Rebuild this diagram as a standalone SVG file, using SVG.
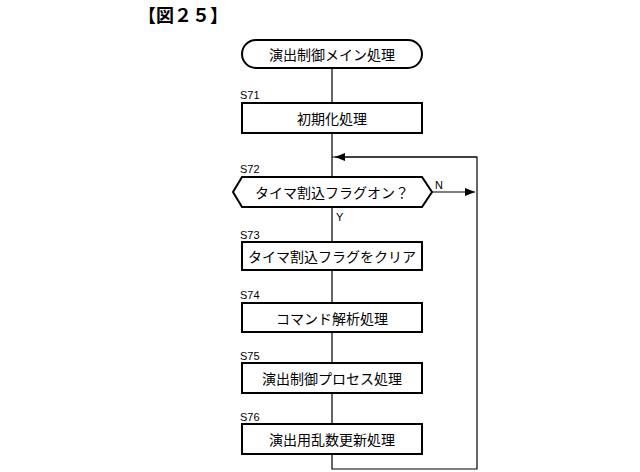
<svg xmlns="http://www.w3.org/2000/svg" width="640" height="472" viewBox="0 0 640 472">
<style>
.b{fill:#fff;stroke:#000;stroke-width:2}
.t{font-family:"Noto Sans CJK JP",sans-serif;font-size:14px;text-anchor:middle;dominant-baseline:central}
.l{font-family:"Liberation Sans",sans-serif;font-size:11px}
.c{fill:none;stroke:#000;stroke-width:1.2}
</style>
<defs><marker id="a" markerWidth="10" markerHeight="8" refX="10" refY="4" orient="auto" markerUnits="userSpaceOnUse"><path d="M0,0L10,4L0,8z"/></marker></defs>
<rect width="640" height="472" fill="#fff"/>
<text x="138" y="22" font-family="Noto Sans CJK JP,sans-serif" font-size="18" font-weight="bold">【図２５】</text>
<g id="connectors">
<path class="c" d="M332,68V103M332,133V242M332,269V303M332,332V363M332,393V424M332,454V469H477V157H332" />
<path class="c" d="M477,157H335" marker-end="url(#a)"/>
<path class="c" d="M432,192H475" marker-end="url(#a)"/>
<text class="l" x="435" y="189">N</text>
<text class="l" x="336" y="221">Y</text>
</g>
<g id="start"><rect class="b" x="242" y="40" width="180" height="28" rx="14"/><text class="t" x="332" y="54">演出制御メイン処理</text></g>
<g id="s71"><text class="l" x="240" y="99">S71</text><rect class="b" x="242" y="103" width="180" height="30"/><text class="t" x="332" y="118">初期化処理</text></g>
<g id="s72"><text class="l" x="240" y="173">S72</text><polygon class="b" points="242,177 422,177 432,192 422,207 242,207 233,192"/><text class="t" x="332" y="192">タイマ割込フラグオン？</text></g>
<g id="s73"><text class="l" x="240" y="239">S73</text><rect class="b" x="242" y="242" width="180" height="28"/><text class="t" x="332" y="256">タイマ割込フラグをクリア</text></g>
<g id="s74"><text class="l" x="240" y="299">S74</text><rect class="b" x="242" y="303" width="180" height="29"/><text class="t" x="332" y="318">コマンド解析処理</text></g>
<g id="s75"><text class="l" x="240" y="360">S75</text><rect class="b" x="242" y="363" width="180" height="30"/><text class="t" x="332" y="378">演出制御プロセス処理</text></g>
<g id="s76"><text class="l" x="240" y="421">S76</text><rect class="b" x="242" y="424" width="180" height="30"/><text class="t" x="332" y="439">演出用乱数更新処理</text></g>
</svg>
